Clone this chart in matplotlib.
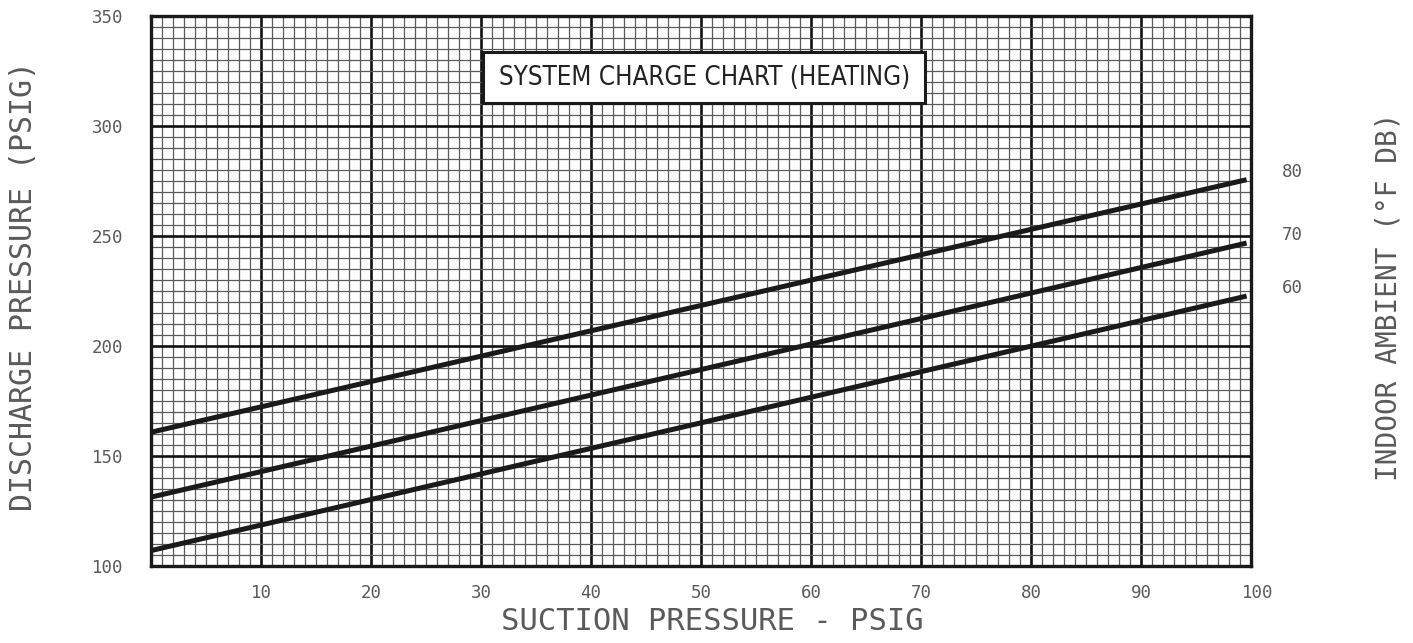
import matplotlib
matplotlib.use("Agg")
import matplotlib.pyplot as plt
import matplotlib.patches as mpatches
import matplotlib.transforms as mtransforms
from matplotlib import font_manager as fm
import numpy as np

# Suction pressure (psig) at the two ends of each charge line
suction = [0, 99.6]
# Discharge pressure (psig) for each indoor ambient (deg F DB)
ambients = ["80", "70", "60"]
discharge = {
    "80": [160.8, 275.6],
    "70": [131.3, 246.8],
    "60": [107.0, 222.7],
}
x_ticks = [10, 20, 30, 40, 50, 60, 70, 80, 90, 100]
y_ticks = [100, 150, 200, 250, 300, 350]
title = "SYSTEM CHARGE CHART (HEATING)"

mono = ["DejaVu Sans Mono"]
label_color = "#5a5a5a"


def narrow_font():
    """Pick an upright condensed sans face if one is installed, else Liberation Sans."""
    for fe in fm.fontManager.ttflist:
        if fe.name in ("Liberation Sans Narrow", "DejaVu Sans", "Roboto Condensed",
                       "Open Sans Condensed", "Noto Sans") and \
                str(fe.stretch) in ("condensed", "semi-condensed") and \
                fe.style == "normal" and fe.weight in (400, "normal", "regular"):
            return fm.FontProperties(fname=fe.fname)
    return fm.FontProperties(family="Liberation Sans")


W, H = 1413, 643
fig = plt.figure(figsize=(W / 100, H / 100), dpi=100)
ax = fig.add_axes([151 / W, (H - 566) / H, 1100 / W, 550 / H])
ax.set_xlim(0, 100)
ax.set_ylim(100, 350)

# graph-paper grid
ax.set_xticks(np.arange(0, 101, 1), minor=True)
ax.set_yticks(np.arange(100, 351, 5), minor=True)
ax.set_xticks(x_ticks)
ax.set_yticks(y_ticks)
ax.grid(which="minor", color="#5a5a5a", linewidth=0.9, zorder=0)
ax.grid(which="major", color="#111111", linewidth=1.9, zorder=0.5)
ax.set_axisbelow(True)
ax.tick_params(which="both", length=0)
ax.tick_params(axis="x", pad=13, labelsize=12.5, labelcolor=label_color)
ax.tick_params(axis="y", pad=20, labelsize=12.5, labelcolor=label_color)
for lbl in ax.get_xticklabels() + ax.get_yticklabels():
    lbl.set_family(mono)
for s in ax.spines.values():
    s.set_linewidth(2.4)
    s.set_color("#1a1a1a")

# the "100" label sits a little right of the last grid line
last = ax.get_xticklabels()[-1]
last.set_transform(last.get_transform() +
                   mtransforms.ScaledTranslation(7 / 100, 0, fig.dpi_scale_trans))

for amb in ambients:
    ys = discharge[amb]
    ax.plot(suction, ys, color="#1a1a1a", linewidth=3.6, solid_capstyle="butt", zorder=3)
    ax.text(102.8, ys[1] + 3.5, amb, family=mono, fontsize=12.5, color=label_color,
            ha="left", va="center", clip_on=False)

# title box
box = mpatches.Rectangle((30.2, 310.5), 40.2, 23.1, facecolor="white",
                         edgecolor="#1a1a1a", linewidth=2.2, zorder=4)
ax.add_patch(box)
tfont = narrow_font()
t = ax.text(50.3, 322.0, title, fontproperties=tfont, fontsize=22,
            color="#222222", ha="center", va="center", zorder=5)
# shrink the title until it fits inside the box with a small margin
renderer = fig.canvas.get_renderer()
width = t.get_window_extent(renderer).width
if width > 413:
    t.set_fontsize(22 * 413 / width)

fig.text(712 / W, 1 - 622 / H, "SUCTION PRESSURE - PSIG", family=mono, fontsize=22,
         color=label_color, ha="center", va="center")
fig.text(24 / W, 1 - 286 / H, "DISCHARGE PRESSURE (PSIG)", family=mono, fontsize=21.5,
         color=label_color, ha="center", va="center", rotation=90)
fig.text(1388 / W, 1 - 297 / H, "INDOOR AMBIENT (°F DB)", family=mono, fontsize=20,
         color=label_color, ha="center", va="center", rotation=90)

fig.savefig("out.png", dpi=100, facecolor="white")
